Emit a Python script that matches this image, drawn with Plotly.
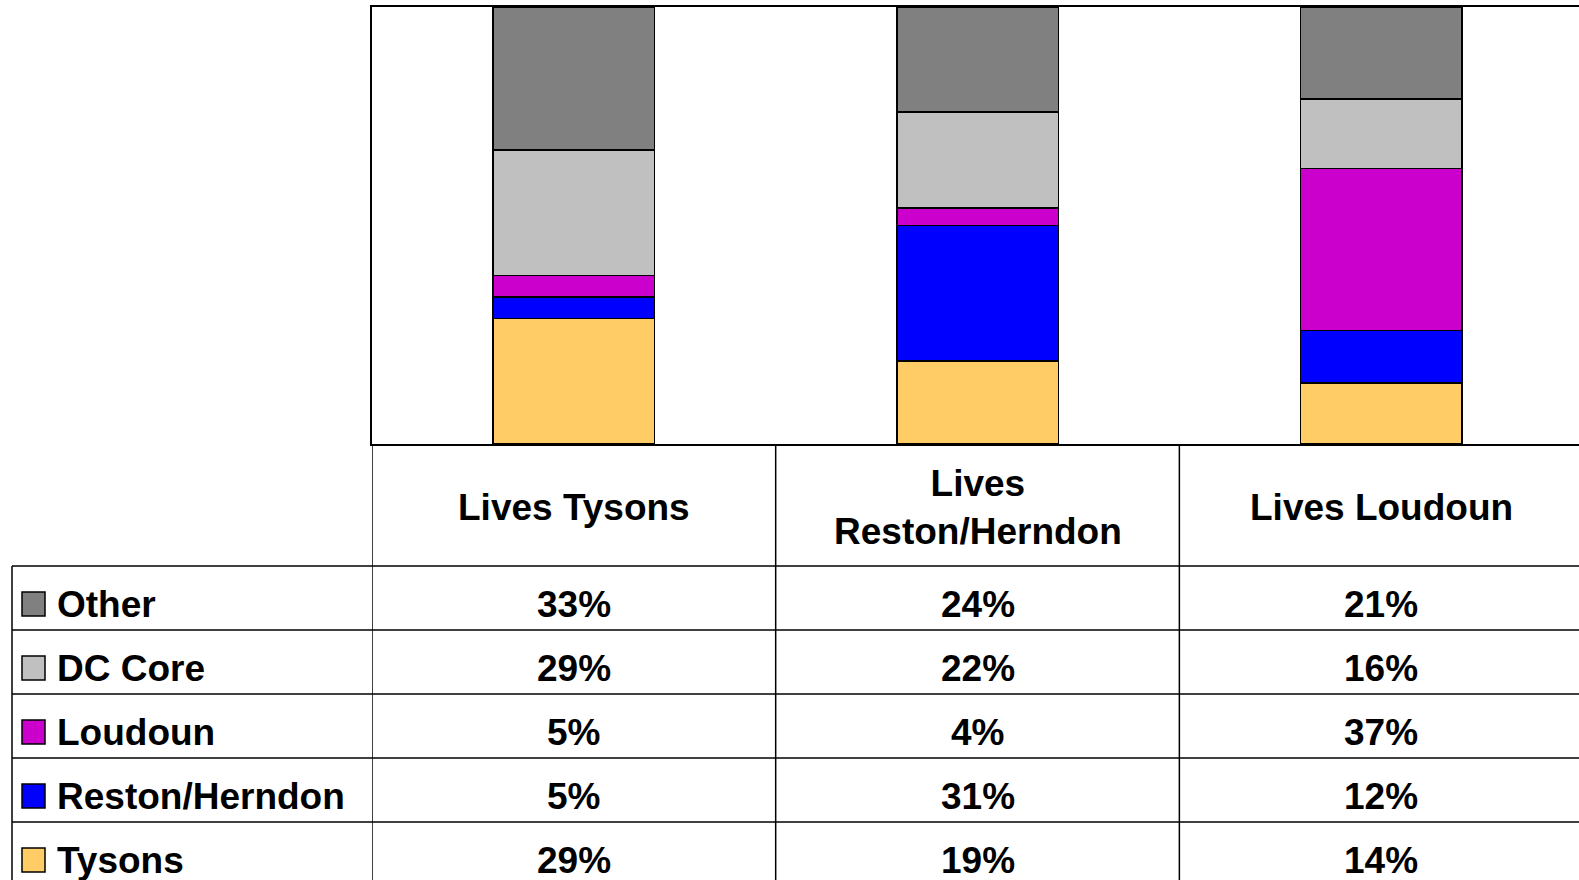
import plotly.graph_objects as go

# columns of the chart / data table
categories = ["Lives Tysons", "Lives<br>Reston/Herndon", "Lives Loudoun"]

# series (table rows, top to bottom) and their shares in percent
series_names = ["Other", "DC Core", "Loudoun", "Reston/Herndon", "Tysons"]
other = [33, 24, 21]
dc_core = [29, 22, 16]
loudoun = [5, 4, 37]
reston_herndon = [5, 31, 12]
tysons = [29, 19, 14]
series_values = [other, dc_core, loudoun, reston_herndon, tysons]
series_colors = ["#808080", "#C0C0C0", "#CC00CC", "#0000FF", "#FFCC66"]

W, H = 1579, 880


def px(x):
    return x / W


def py(y):
    return 1 - y / H


fig = go.Figure()

# stacked bars, bottom series first
for name, vals, col in reversed(list(zip(series_names, series_values, series_colors))):
    fig.add_trace(go.Bar(x=categories, y=vals, name=name, marker_color=col,
                         marker_line=dict(color="black", width=1.5), width=0.4))

plot_top, plot_bottom, plot_left = 7, 444, 372
head_bottom = 566
row_h = 64
font = dict(family="Liberation Sans, Arial, sans-serif", size=37, color="black", weight="bold")

shapes = []
annotations = []

# table grid: horizontal lines
for i in range(len(series_names)):
    y = head_bottom + i * row_h
    shapes.append(dict(type="line", xref="paper", yref="paper", x0=px(12), x1=1.0,
                       y0=py(y), y1=py(y), line=dict(color="black", width=1.5)))
# vertical lines between columns
for b in [-0.5, 0.5, 1.5]:
    shapes.append(dict(type="line", xref="x", yref="paper", x0=b, x1=b,
                       y0=py(plot_bottom), y1=0, line=dict(color="black", width=1.5)))
shapes.append(dict(type="line", xref="paper", yref="paper", x0=px(12), x1=px(12),
                   y0=py(head_bottom), y1=0, line=dict(color="black", width=1.5)))

# header texts
for c in categories:
    annotations.append(dict(x=c, xref="x", y=py((plot_bottom + head_bottom) / 2 + 2), yref="paper",
                            text=c, showarrow=False, font=font, xanchor="center", yanchor="middle"))

# row labels with legend keys, and cell values
for i, (name, vals, col) in enumerate(zip(series_names, series_values, series_colors)):
    yc = head_bottom + i * row_h + row_h / 2 + 6
    shapes.append(dict(type="rect", xref="paper", yref="paper", x0=px(22), x1=px(45),
                       y0=py(yc - 12), y1=py(yc + 12), fillcolor=col,
                       line=dict(color="black", width=1.5)))
    annotations.append(dict(x=px(55), xref="paper", y=py(yc), yref="paper", text=name,
                            showarrow=False, font=font, xanchor="left", yanchor="middle"))
    for c, v in zip(categories, vals):
        annotations.append(dict(x=c, xref="x", y=py(yc), yref="paper", text=f"{v}%",
                                showarrow=False, font=font, xanchor="center", yanchor="middle"))

fig.update_layout(
    barmode="stack", barnorm="percent",
    width=W, height=H, margin=dict(l=0, r=0, t=0, b=0),
    paper_bgcolor="white", plot_bgcolor="white",
    showlegend=False,
    xaxis=dict(domain=[px(plot_left), 1.0], range=[-0.5, 2.49], showticklabels=False,
               ticks="", showgrid=False, showline=True, mirror=True,
               linecolor="black", linewidth=2, zeroline=False),
    yaxis=dict(domain=[py(plot_bottom), py(plot_top)], range=[0, 100], showticklabels=False,
               ticks="", showgrid=False, showline=True, linecolor="black", linewidth=2,
               zeroline=False),
    shapes=shapes, annotations=annotations,
)

# drop the default page margin so the figure fills the window
fig.write_html("out.html", config={"displayModeBar": False},
               post_script="document.body.style.margin='0';")
